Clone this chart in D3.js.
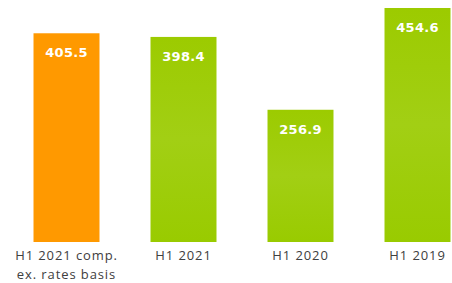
<!DOCTYPE html>
<html>
<head>
<meta charset="utf-8">
<script src="https://cdn.jsdelivr.net/npm/d3@7"></script>
<style>
  body { margin: 0; background: #fff; }
</style>
</head>
<body>
<svg></svg>
<script>
let categories = [["H1 2021 comp.", "ex. rates basis"], ["H1 2021"], ["H1 2020"], ["H1 2019"]];
let values = [405.5, 398.4, 256.9, 454.6];
let kinds = ["orange", "green", "green", "green"];

let width = 452;
let height = 283;
let baseline = 242;

let svg = d3.select('svg')
            .attr('width', width)
            .attr('height', height)

let defs = svg.append('defs')
let grad = defs.append('linearGradient')
               .attr('id', 'greenGrad')
               .attr('x1', 0).attr('y1', 0).attr('x2', 0).attr('y2', 1)
grad.append('stop').attr('offset', '0%').attr('stop-color', '#9ccb00')
grad.append('stop').attr('offset', '50%').attr('stop-color', '#a2cf14')
grad.append('stop').attr('offset', '100%').attr('stop-color', '#99cb00')

let x = d3.scaleBand()
          .domain(d3.range(values.length))
          .range([8, 476])
          .paddingInner(0.436)
          .paddingOuter(0.218)

let y = d3.scaleLinear()
          .domain([0, 454.6])
          .range([baseline, 8])

svg.selectAll('rect.bar')
   .data(values)
   .enter()
   .append('rect')
   .attr('class', 'bar')
   .attr('x', (d, i) => x(i))
   .attr('y', d => y(d))
   .attr('width', x.bandwidth())
   .attr('height', d => baseline - y(d))
   .attr('fill', (d, i) => kinds[i] == 'orange' ? '#ff9900' : 'url(#greenGrad)')

svg.selectAll('text.val')
   .data(values)
   .enter()
   .append('text')
   .attr('class', 'val')
   .attr('x', (d, i) => x(i) + x.bandwidth() / 2)
   .attr('y', d => y(d) + 24)
   .attr('text-anchor', 'middle')
   .attr('fill', '#fff')
   .style('font-family', 'DejaVu Sans')
   .style('font-weight', 'bold')
   .style('font-size', '13px')
   .style('letter-spacing', '0.3px')
   .text(d => d.toFixed(1))

let labels = svg.selectAll('text.cat')
   .data(categories)
   .enter()
   .append('text')
   .attr('class', 'cat')
   .attr('x', (d, i) => x(i) + x.bandwidth() / 2)
   .attr('y', 260)
   .attr('text-anchor', 'middle')
   .attr('fill', '#404040')
   .style('font-family', 'Open Sans')
   .style('font-size', '13px')
   .style('letter-spacing', '0.9px')

labels.selectAll('tspan')
   .data((d, i) => d.map(t => ({t: t, i: i})))
   .enter()
   .append('tspan')
   .attr('x', d => x(d.i) + x.bandwidth() / 2)
   .attr('dy', (d, j) => j == 0 ? 0 : 19)
   .text(d => d.t)
</script>
</body>
</html>
